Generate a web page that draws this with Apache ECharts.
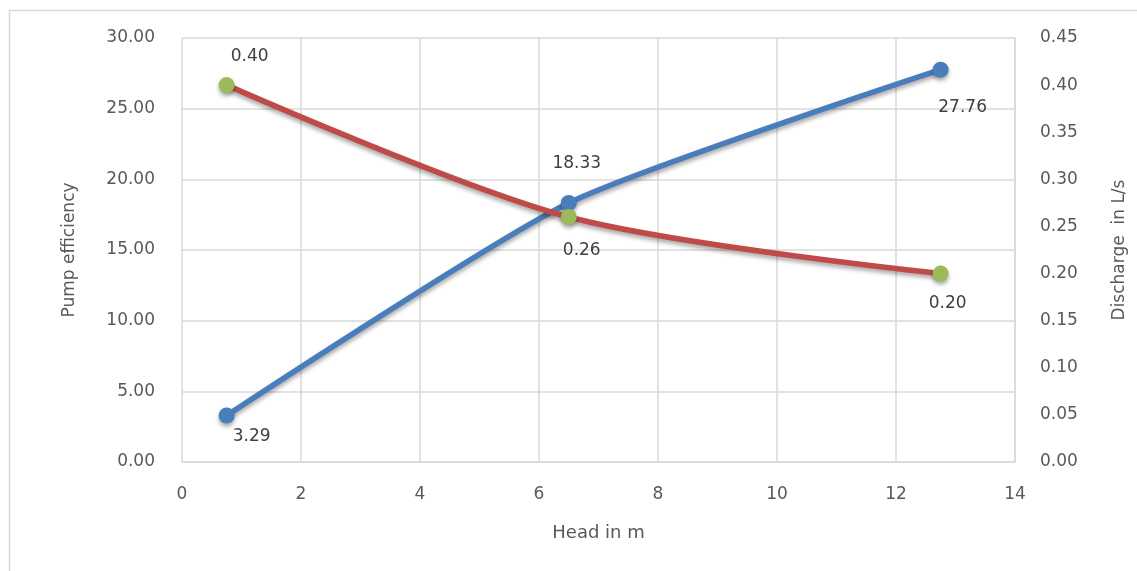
<!DOCTYPE html>
<html><head><meta charset="utf-8">
<script src="https://cdn.jsdelivr.net/npm/echarts@6/dist/echarts.min.js"></script>
<style>html,body{margin:0;padding:0;background:#fff}#c{width:1137px;height:571px}</style>
</head><body><div id="c"></div>
<script>
const head = [0.75, 6.5, 12.75];
const efficiency = [3.29, 18.33, 27.76];
const discharge = [0.40, 0.26, 0.20];
const xTicks = [0, 2, 4, 6, 8, 10, 12, 14];

const chart = echarts.init(document.getElementById('c'));
const font = '"DejaVu Sans", sans-serif';
const txt = '#595959';
const gridLine = {show: true, lineStyle: {color: '#d9d9d9', width: 1.5}};
const shadow = {shadowColor: 'rgba(0,0,0,0.35)', shadowBlur: 4, shadowOffsetY: 3};
chart.setOption({
  animation: false,
  graphic: [{type: 'rect', shape: {x: 9.5, y: 10.5, width: 1140, height: 600},
    style: {fill: 'none', stroke: '#d9d9d9', lineWidth: 1.5}, silent: true}],
  grid: {left: 182, right: 122, top: 38, bottom: 109},
  xAxis: {type: 'value', min: xTicks[0], max: xTicks[xTicks.length - 1], interval: 2,
    name: 'Head in m', nameLocation: 'middle', nameGap: 62,
    nameTextStyle: {color: txt, fontSize: 18, fontFamily: font},
    axisLine: {show: true, lineStyle: {color: '#d9d9d9', width: 1.5}}, axisTick: {show: false},
    axisLabel: {color: txt, fontSize: 17, fontFamily: font, margin: 24},
    splitLine: gridLine},
  yAxis: [{type: 'value', min: 0, max: 30, interval: 5, position: 'left',
      name: 'Pump efficiency', nameLocation: 'middle', nameGap: 104, nameRotate: 90,
      nameTextStyle: {color: txt, fontSize: 17, fontFamily: font},
      axisLine: {show: false}, axisTick: {show: false},
      axisLabel: {color: txt, fontSize: 17, fontFamily: font, margin: 27, formatter: v => v.toFixed(2)},
      splitLine: gridLine},
    {type: 'value', min: 0, max: 0.45, interval: 0.05, position: 'right',
      name: 'Discharge  in L/s', nameLocation: 'middle', nameGap: 96, nameRotate: 90,
      nameTextStyle: {color: txt, fontSize: 17, fontFamily: font},
      axisLine: {show: true, lineStyle: {color: '#d9d9d9', width: 1.5}}, axisTick: {show: false},
      axisLabel: {color: txt, fontSize: 17, fontFamily: font, margin: 25, formatter: v => v.toFixed(2)},
      splitLine: {show: false}}],
  series: [
    {type: 'line', yAxisIndex: 0, smooth: 0.2, symbol: 'circle', symbolSize: 16,
      lineStyle: Object.assign({color: '#4a7ebb', width: 5.5}, shadow),
      itemStyle: Object.assign({color: '#4a7ebb'}, shadow),
      label: {show: true, color: '#404040', fontSize: 17, fontFamily: font,
        formatter: p => p.value[1].toFixed(2)},
      data: head.map((h, i) => {
        const pos = [['bottom', [25, 0]], ['top', [8, -18]], ['bottom', [22, 16]]][i];
        return {value: [h, efficiency[i]], label: {position: pos[0], offset: pos[1]}};
      })},
    {type: 'line', yAxisIndex: 1, smooth: 0.3, symbol: 'circle', symbolSize: 16,
      lineStyle: Object.assign({color: '#be4b48', width: 5.5}, shadow),
      itemStyle: Object.assign({color: '#9bbb59'}, shadow),
      label: {show: true, color: '#404040', fontSize: 17, fontFamily: font,
        formatter: p => p.value[1].toFixed(2)},
      data: head.map((h, i) => {
        const pos = [['top', [23, -7]], ['bottom', [13, 12]], ['bottom', [7, 9]]][i];
        return {value: [h, discharge[i]], label: {position: pos[0], offset: pos[1]}};
      })}
  ]
});
</script></body></html>
